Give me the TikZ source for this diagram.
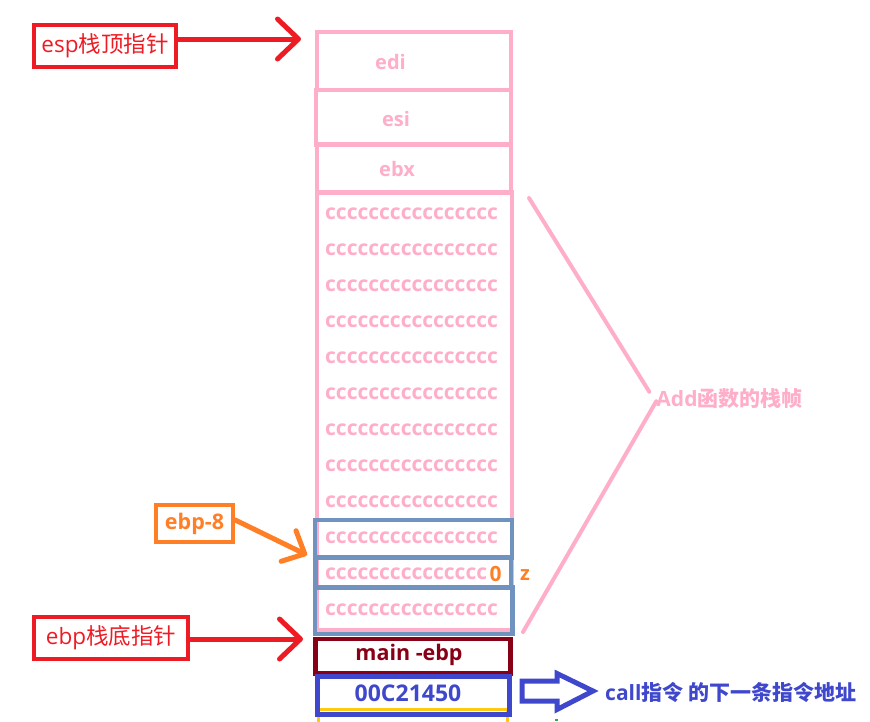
\documentclass[tikz,border=0pt]{standalone}
\usepackage{fontspec}
\setmainfont{Open Sans}
\newfontfamily\cjk{Noto Sans CJK SC}
\usetikzlibrary{arrows.meta}

\definecolor{stackpink}{HTML}{FFAEC9}
\definecolor{slotblue}{HTML}{7092BE}
\definecolor{ptrorange}{HTML}{FF7F27}
\definecolor{ptrred}{HTML}{ED1C24}
\definecolor{savedred}{HTML}{880015}
\definecolor{retblue}{HTML}{3F48CC}
\definecolor{markyellow}{HTML}{FFC90E}
\definecolor{markgreen}{HTML}{22B14C}

\newcommand{\fs}[1]{\fontsize{#1pt}{#1pt}\selectfont}

\tikzset{
  cell/.style={draw, line width=4.5pt, inner sep=0pt, anchor=center},
  pinkcell/.style={cell, draw=stackpink},
  slotcell/.style={cell, draw=slotblue},
  fill text/.style={text=stackpink, font=\fs{21}\bfseries, inner sep=0pt, anchor=west},
  reg text/.style={text=stackpink, font=\fs{20}\bfseries, inner sep=0pt},
  ptrbox/.style={draw, line width=4.5pt, inner sep=0pt},
  ptrarrow/.style={line width=5pt, line cap=round,
    -{Straight Barb[length=21pt, width=40pt, round]}},
}

\begin{document}
\begin{tikzpicture}[x=1pt, y=-1pt]
\useasboundingbox (0,0) rectangle (870,721);

% ---- stack cells, top to bottom ----
\node[pinkcell, minimum width=194pt, minimum height=58pt] (edi) at (414,61) {};
\node[pinkcell, minimum width=195pt, minimum height=54.5pt] (esi) at (413.5,117.25) {};
\node[pinkcell, minimum width=194pt, minimum height=48pt] (ebx) at (414,168.5) {};
\node[pinkcell, minimum width=195pt, minimum height=438pt] (frame) at (414.5,411.5) {};

\node[reg text] (ediT) at (390.5,62) {edi};
\node[reg text] (esiT) at (396,119) {esi};
\node[reg text] (ebxT) at (397,169) {ebx};

% uninitialised locals
\foreach \y [count=\i] in {214,250,286,322,358,394,430,466,502}
  \node[fill text] (fill\i) at (325,\y) {cccccccccccccccc};

% slots around the local variable
\node[slotcell, minimum width=197pt, minimum height=37.5pt] (slotA) at (413.5,538.75) {};
\node[slotcell, minimum width=195.5pt, minimum height=30pt] (slotB) at (413,572.5) {};
\node[slotcell, minimum width=197.5pt, minimum height=46.5pt] (slotC) at (413.75,610.75) {};
\node[fill text] (fillA) at (325,538) {cccccccccccccccc};
\node[fill text] (fillB) at (325,574) {ccccccccccccccc};
\node[text=ptrorange, font=\fs{21}\bfseries, inner sep=0pt] (zero) at (495.5,573.5) {0};
\node[text=ptrorange, font=\fs{20}\bfseries, inner sep=0pt] (zvar) at (525,575.5) {z};
\node[fill text] (fillC) at (325,610) {cccccccccccccccc};

% saved ebp and return address
\draw[markyellow, line width=3pt] (318,730) -- (318,709.5) -- (507.5,709.5) -- (507.5,730);
\fill[markgreen] (554.5,719) rectangle (557.5,721);
\node[cell, draw=savedred, minimum width=195pt, minimum height=34.5pt] (mainebp) at (413,656.25) {};
\node[text=savedred, font=\fs{21.5}\bfseries, inner sep=0pt] (mainebpT) at (409,655) {main -ebp};
\node[cell, draw=retblue, minimum width=192pt, minimum height=38pt] (ret) at (413.5,695.5) {};
\node[text=retblue, font=\fs{23}\bfseries, inner sep=0pt] (retT) at (408,693) {00C21450};

% ---- pointer labels ----
\node[ptrbox, draw=ptrred, text=ptrred, minimum width=142pt, minimum height=42pt,
      font=\fs{22.5}] (esp) at (105,46) {esp{\cjk 栈顶指针}};
\coordinate (esptip) at (301,39);
\draw[ptrred, ptrarrow] (esp.east |- esptip) -- (esptip);

\node[ptrbox, draw=ptrorange, text=ptrorange, minimum width=77pt, minimum height=37pt,
      font=\fs{21.5}\bfseries] (ebp8) at (194.5,523.5) {ebp-8};
\coordinate (ebp8tip) at (307,555);
\draw[ptrorange, ptrarrow, -{Straight Barb[length=18pt, width=34pt, round]}]
  ([yshift=3.5pt]ebp8.east) -- (ebp8tip);

\node[ptrbox, draw=ptrred, text=ptrred, minimum width=154pt, minimum height=42pt,
      font=\fs{22.5}] (ebp) at (111,638) {ebp{\cjk 栈底指针}};
\coordinate (ebptip) at (303,639);
\draw[ptrred, ptrarrow] (ebp.east |- ebptip) -- (ebptip);

% ---- frame brace ----
\node[text=stackpink, font=\fs{21}\bfseries, inner sep=0pt] (frameT) at (729.5,399)
  {Add{\cjk 函数的栈帧}};
\coordinate (braceTop) at (529,198);
\coordinate (braceBot) at (523,632);
\draw[stackpink, line width=4pt, line cap=round]
  (braceTop) -- ([shift={(-7pt,-3pt)}]frameT.north west);
\draw[stackpink, line width=4pt, line cap=round]
  ([shift={(0pt,8pt)}]frameT.south west) -- (braceBot);

% ---- return address note ----
\draw[retblue, line width=5pt, line join=miter]
  (522,681) -- (557,681) -- (557,673.5) -- (593,691) -- (557,709.5)
  -- (557,701) -- (522,701) -- cycle;
\node[text=retblue, font=\fs{21}\bfseries, inner sep=0pt, anchor=west] (retnote) at (605,692)
  {call{\cjk 指令 的下一条指令地址}};
\end{tikzpicture}
\end{document}
